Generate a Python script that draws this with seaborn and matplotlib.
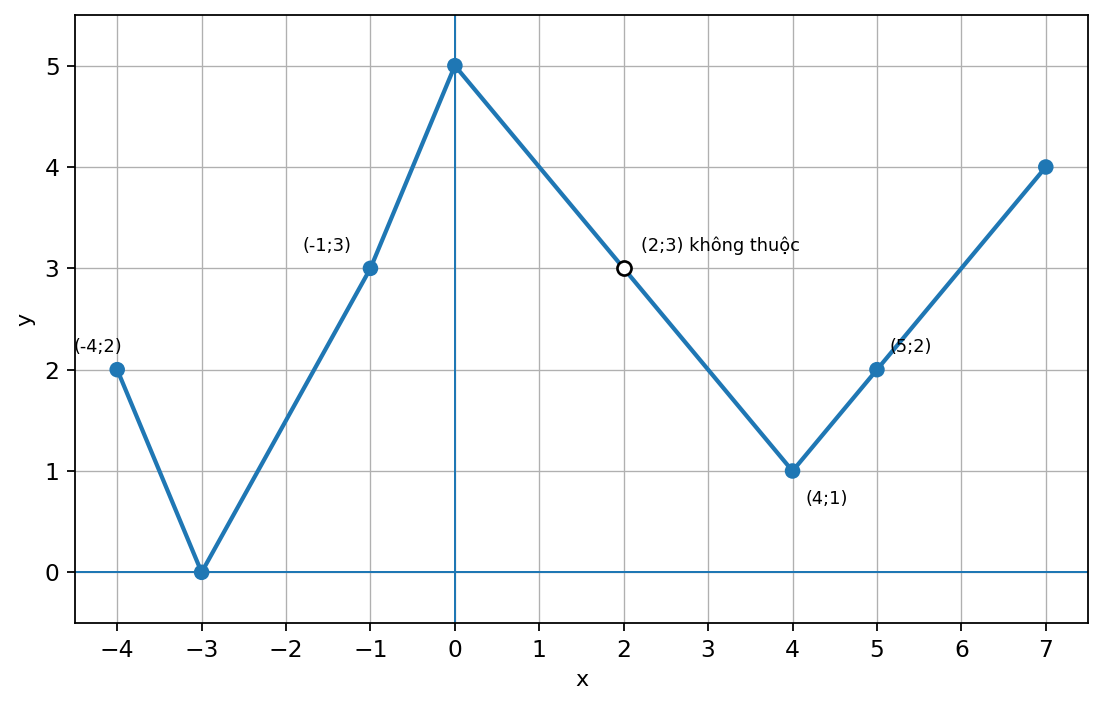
import matplotlib
matplotlib.use('Agg')
import matplotlib.pyplot as plt
import seaborn as sns

# đường gấp khúc qua các điểm
x_line = [-4, -3, -1, 0, 2, 4, 5, 7]
y_line = [2, 0, 3, 5, 3, 1, 2, 4]

# điểm thuộc đồ thị (chấm đặc)
x_pts = [-4, -3, -1, 0, 4, 5, 7]
y_pts = [2, 0, 3, 5, 1, 2, 4]

# điểm không thuộc (chấm rỗng)
x_open = [2]
y_open = [3]

labels = ['(-4;2)', '(-1;3)', '(2;3) không thuộc', '(5;2)', '(4;1)']
label_x = [-4.52, -1.8, 2.2, 5.15, 4.15]
label_y = [2.13, 3.13, 3.13, 2.13, 0.63]

BLUE = '#1f77b4'
DPI = 160

fig = plt.figure(figsize=(1104 / DPI, 703 / DPI), dpi=DPI)
ax = fig.add_axes([75 / 1104, 1 - 623 / 703, (1088 - 75) / 1104, (623 - 15) / 703])

ax.grid(True, color='#b0b0b0', linewidth=0.6)
ax.set_axisbelow(True)
ax.axhline(0, color=BLUE, linewidth=0.9)
ax.axvline(0, color=BLUE, linewidth=0.9)

sns.lineplot(x=x_line, y=y_line, sort=False, color=BLUE, linewidth=1.9, ax=ax)
sns.scatterplot(x=x_pts, y=y_pts, color=BLUE, s=49, edgecolor='none', ax=ax, zorder=3)
sns.scatterplot(x=x_open, y=y_open, facecolor='white', edgecolor='black',
                linewidth=1.2, s=40, ax=ax, zorder=4)

for lx, ly, t in zip(label_x, label_y, labels):
    ax.text(lx, ly, t, fontsize=8, ha='left', va='bottom')

ax.set_xlim(-4.5, 7.5)
ax.set_ylim(-0.5, 5.5)
ax.set_xticks(range(-4, 8))
ax.set_yticks(range(0, 6))
ax.tick_params(labelsize=10.5)
ax.set_xlabel('x')
ax.set_ylabel('y')

fig.savefig('out.png', dpi=DPI)
